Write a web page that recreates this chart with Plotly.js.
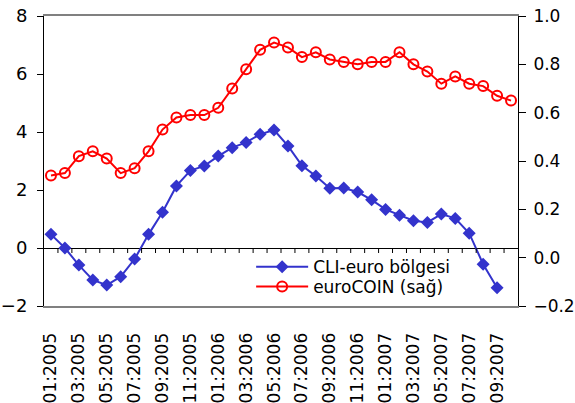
<!DOCTYPE html>
<html>
<head>
<meta charset="utf-8">
<script src="https://cdn.plot.ly/plotly-3.0.1.min.js"></script>
<style>
  html, body { margin: 0; padding: 0; background: #fff; }
  #chart { width: 575px; height: 403px; }
</style>
</head>
<body>
<div id="chart"></div>
<script>
// Monthly categories, 01:2005 .. 10:2007
const months = [
  "01:2005","02:2005","03:2005","04:2005","05:2005","06:2005","07:2005","08:2005","09:2005","10:2005","11:2005","12:2005",
  "01:2006","02:2006","03:2006","04:2006","05:2006","06:2006","07:2006","08:2006","09:2006","10:2006","11:2006","12:2006",
  "01:2007","02:2007","03:2007","04:2007","05:2007","06:2007","07:2007","08:2007","09:2007","10:2007"
];

// CLI for the euro area (left axis)
const cliEuro = [
  0.47, 0.0, -0.59, -1.10, -1.28, -0.99, -0.38, 0.47, 1.23, 2.14, 2.67, 2.83,
  3.17, 3.46, 3.64, 3.92, 4.07, 3.52, 2.84, 2.48, 2.06, 2.07, 1.93, 1.66,
  1.33, 1.13, 0.94, 0.88, 1.17, 1.02, 0.51, -0.56, -1.37
];

// euroCOIN (right axis)
const euroCoin = [
  0.34, 0.35, 0.42, 0.44, 0.41, 0.35, 0.37, 0.44, 0.53, 0.58, 0.59, 0.59,
  0.62, 0.70, 0.78, 0.86, 0.89, 0.87, 0.83, 0.85, 0.82, 0.81, 0.80, 0.81,
  0.81, 0.85, 0.80, 0.77, 0.72, 0.75, 0.72, 0.71, 0.67, 0.65
];

const seriesNames = ["CLI-euro bölgesi", "euroCOIN (sağ)"];

// Every second month gets a label
const labelMonths = months.filter((m, i) => i % 2 === 0);

const FONT = "DejaVu Sans, sans-serif";

const traces = [
  {
    x: months.slice(0, cliEuro.length),
    y: cliEuro,
    name: seriesNames[0],
    type: "scatter",
    mode: "lines+markers",
    line: { color: "#3333CC", width: 2 },
    marker: { symbol: "diamond", size: 10, color: "#3333CC" },
    yaxis: "y",
    legend: "legend"
  },
  {
    x: months,
    y: euroCoin,
    name: seriesNames[1],
    type: "scatter",
    mode: "lines+markers",
    line: { color: "#FF0000", width: 2 },
    marker: { symbol: "circle-open", size: 10, color: "#FF0000", line: { width: 2, color: "#FF0000" } },
    yaxis: "y2",
    legend: "legend2"
  }
];

// Category-boundary ticks hanging from the zero line
const zeroTicks = [];
for (let i = 1; i < months.length; i++) {
  zeroTicks.push({
    type: "line",
    xref: "x", yref: "y",
    x0: i - 0.5, x1: i - 0.5,
    ysizemode: "pixel", yanchor: 0,
    y0: 0, y1: -5,
    line: { color: "#000", width: 1 }
  });
}

const legendStyle = (y) => ({
  x: 0.437, y: y, xanchor: "left", yanchor: "middle",
  bgcolor: "rgba(255,255,255,0)",
  font: { family: FONT, size: 17, color: "#000" },
  itemwidth: 52
});

const layout = {
  width: 575,
  height: 403,
  margin: { l: 44, r: 57, t: 16, b: 97 },
  paper_bgcolor: "#fff",
  plot_bgcolor: "#fff",
  font: { family: FONT, size: 17, color: "#000" },
  showlegend: true,
  legend: legendStyle(0.134),
  legend2: legendStyle(0.066),
  xaxis: {
    type: "category",
    categoryorder: "array",
    categoryarray: months,
    range: [-0.5, months.length - 0.5],
    tickmode: "array",
    tickvals: labelMonths,
    ticktext: labelMonths,
    tickangle: -90,
    ticks: "",
    ticklabelstandoff: 18,
    tickfont: { family: FONT, size: 17 },
    showgrid: false,
    zeroline: false,
    showline: true,
    linecolor: "#808080",
    linewidth: 2,
    mirror: true
  },
  yaxis: {
    range: [-2, 8],
    dtick: 2,
    tick0: 0,
    ticks: "outside",
    ticklen: 6,
    tickcolor: "#000",
    ticklabelstandoff: 6,
    tickfont: { family: FONT, size: 18 },
    showgrid: false,
    zeroline: true,
    zerolinecolor: "#000",
    zerolinewidth: 1,
    showline: true,
    linecolor: "#000",
    linewidth: 1
  },
  yaxis2: {
    overlaying: "y",
    side: "right",
    range: [-0.2, 1.0],
    dtick: 0.2,
    tick0: 0,
    tickformat: ".1f",
    ticks: "outside",
    ticklen: 7,
    tickcolor: "#000",
    ticklabelstandoff: 4,
    tickfont: { family: FONT, size: 17 },
    showgrid: false,
    zeroline: false,
    showline: true,
    linecolor: "#000",
    linewidth: 1
  },
  shapes: zeroTicks
};

Plotly.newPlot("chart", traces, layout, { staticPlot: true, displayModeBar: false });
</script>
</body>
</html>
